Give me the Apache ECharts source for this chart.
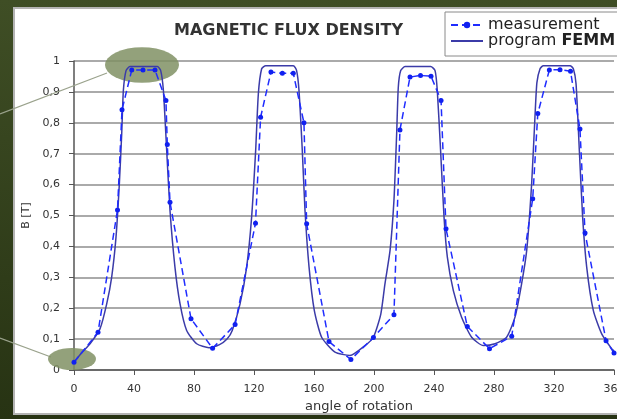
<!DOCTYPE html>
<html>
<head>
<meta charset="utf-8">
<script src="https://cdn.jsdelivr.net/npm/echarts@6/dist/echarts.min.js"></script>
<style>html,body{margin:0;padding:0;background:#2f3d1a;}#c{width:617px;height:419px;}</style>
</head>
<body>
<div id="c"></div>
<script>
// ---- data ----
const titleText = 'MAGNETIC FLUX DENSITY';
const xName = 'angle of rotation';
const yName = 'B [T]';
const seriesNames = ['measurement', 'program FEMM'];

const measAngle = [0, 16, 29, 32, 38.5, 46, 54, 61.3, 62.2, 64, 78, 92.4, 107.4, 121, 124.4, 131.3, 138.9, 146.2, 153.3, 155.1, 170, 184.6, 199.6, 213.3, 217.3, 224, 231, 238, 244.7, 248, 262.2, 277, 291.8, 305.8, 309.2, 316.9, 324, 331, 337.3, 340.7, 354.7, 360];
const measB = [0.025, 0.122, 0.518, 0.842, 0.971, 0.971, 0.971, 0.872, 0.73, 0.543, 0.166, 0.07, 0.147, 0.475, 0.818, 0.964, 0.96, 0.96, 0.8, 0.473, 0.092, 0.034, 0.105, 0.179, 0.777, 0.948, 0.953, 0.951, 0.872, 0.457, 0.141, 0.069, 0.109, 0.554, 0.83, 0.971, 0.972, 0.967, 0.78, 0.443, 0.095, 0.055];

const femmAngle = [0, 5, 10.7, 17.3, 21.8, 25.1, 28, 30.2, 31.8, 32.9, 34.7, 37.3, 55.6, 57.8, 59.6, 61.8, 64, 67.3, 70.7, 75.1, 81.8, 90, 97, 102, 105.5, 110.7, 115.1, 118.4, 121.1, 122.9, 125.1, 127.8, 146.2, 148.4, 150, 152.2, 154, 156.7, 160.2, 165.1, 174, 184, 194, 199.6, 204.5, 207.3, 210.7, 213.3, 215.1, 216.2, 217.8, 220.7, 237.8, 240.7, 242.2, 244.4, 246.7, 248.9, 252.9, 258.4, 265.1, 272.9, 280.7, 288.4, 294, 298.4, 301.8, 305.1, 307.3, 308.6, 310.7, 312.9, 330.7, 332.9, 334.7, 336.9, 339.1, 341.8, 346.2, 351.8, 358.4, 360];
const femmB = [0.025, 0.055, 0.085, 0.133, 0.214, 0.30, 0.43, 0.60, 0.764, 0.904, 0.969, 0.982, 0.982, 0.969, 0.904, 0.71, 0.516, 0.333, 0.214, 0.128, 0.085, 0.072, 0.082, 0.1, 0.128, 0.214, 0.333, 0.494, 0.71, 0.894, 0.975, 0.985, 0.985, 0.969, 0.904, 0.71, 0.516, 0.333, 0.193, 0.106, 0.058, 0.047, 0.079, 0.106, 0.18, 0.279, 0.387, 0.549, 0.764, 0.915, 0.969, 0.982, 0.982, 0.969, 0.904, 0.71, 0.494, 0.365, 0.257, 0.171, 0.106, 0.079, 0.085, 0.106, 0.171, 0.279, 0.387, 0.603, 0.818, 0.93, 0.975, 0.985, 0.985, 0.975, 0.926, 0.71, 0.494, 0.333, 0.193, 0.117, 0.069, 0.062];

const xMin = 0, xMax = 360, xStep = 40;
const yMin = 0, yMax = 1, yStep = 0.1;

// ---- chart ----
const chart = echarts.init(document.getElementById('c'), null, {renderer: 'canvas'});
const font = 'DejaVu Sans';
const measData = measAngle.map((a, i) => [a, measB[i]]);
const femmData = femmAngle.map((a, i) => [a, femmB[i]]);

chart.setOption({
  animation: false,
  backgroundColor: {type: 'linear', x: 0, y: 0, x2: 0, y2: 1, colorStops: [{offset: 0, color: '#3f4e25'}, {offset: 1, color: '#273313'}]},
  graphic: [
    {type: 'rect', z: -10, shape: {x: 14, y: 8, width: 620, height: 406}, style: {fill: '#ffffff', stroke: '#b4b4b4', lineWidth: 2}},
    {type: 'line', z: 1, shape: {x1: 0, y1: 114, x2: 107, y2: 73}, style: {stroke: '#9aa28c', lineWidth: 1.2}},
    {type: 'line', z: 1, shape: {x1: 0, y1: 338, x2: 51, y2: 357}, style: {stroke: '#9aa28c', lineWidth: 1.2}},
    {type: 'circle', z: 1, x: 142, y: 65, scaleY: 0.48, shape: {cx: 0, cy: 0, r: 37}, style: {fill: 'rgba(128,145,100,0.85)'}},
    {type: 'circle', z: 1, x: 72, y: 359, scaleY: 0.46, shape: {cx: 0, cy: 0, r: 24}, style: {fill: 'rgba(128,145,100,0.85)'}}
  ],
  title: {
    text: titleText, left: 174, top: 23, padding: 0,
    textStyle: {fontFamily: font, fontSize: 16, fontWeight: 'bold', color: '#333'}
  },
  legend: {
    data: [
      {name: seriesNames[0]},
      {name: seriesNames[1], icon: 'path://M0,0L32,0L32,2L0,2Z'}
    ],
    orient: 'vertical', left: 445, top: 12,
    padding: [5, 10, 7, 5], itemGap: 0, itemWidth: 32, itemHeight: 8,
    backgroundColor: '#fff', borderColor: '#8a8a8a', borderWidth: 1,
    formatter: n => n === 'program FEMM' ? '{a|program }{b|FEMM}' : '{a|' + n + '}',
    textStyle: {fontFamily: font, fontSize: 16, color: '#222',
      rich: {a: {fontFamily: font, fontSize: 16, color: '#222'}, b: {fontFamily: font, fontSize: 16, fontWeight: 'bold', color: '#222'}}}
  },
  grid: {left: 74, right: 3, top: 61, bottom: 49, outerBoundsMode: 'none', containLabel: false},
  xAxis: {
    type: 'value', min: xMin, max: xMax, interval: xStep,
    name: xName, nameLocation: 'middle', nameGap: 29,
    nameTextStyle: {fontFamily: font, fontSize: 13, color: '#333', padding: [0, 0, 0, 30]},
    axisLine: {lineStyle: {color: '#555', width: 1.5}},
    axisTick: {show: true, inside: false, length: 5, lineStyle: {color: '#555'}},
    axisLabel: {margin: 14, fontFamily: font, fontSize: 11, color: '#333', hideOverlap: false},
    splitLine: {show: false}
  },
  yAxis: {
    type: 'value', min: yMin, max: yMax, interval: yStep,
    name: yName, nameLocation: 'middle', nameGap: 41,
    nameTextStyle: {fontFamily: font, fontSize: 11, color: '#333'},
    axisLine: {show: true, lineStyle: {color: '#555', width: 1.5}},
    axisTick: {show: true, length: 5, lineStyle: {color: '#555'}},
    axisLabel: {margin: 14, fontFamily: font, fontSize: 11, color: '#333',
      formatter: v => String(Math.round(v * 10) / 10).replace('.', ',')},
    splitLine: {show: true, lineStyle: {color: '#8e8e8e', width: 1.6}}
  },
  series: [
    {
      name: seriesNames[0], type: 'line', data: measData, z: 3,
      symbol: 'circle', symbolSize: 5, showSymbol: true,
      lineStyle: {color: '#1f2cff', width: 1.5, type: [7, 4]},
      itemStyle: {color: '#1020f0'}
    },
    {
      name: seriesNames[1], type: 'line', data: femmData, z: 2,
      symbol: 'none', smooth: 0.2,
      lineStyle: {color: '#3b3ba8', width: 1.5},
      itemStyle: {color: '#3b3ba8'}
    }
  ]
});
</script>
</body>
</html>
